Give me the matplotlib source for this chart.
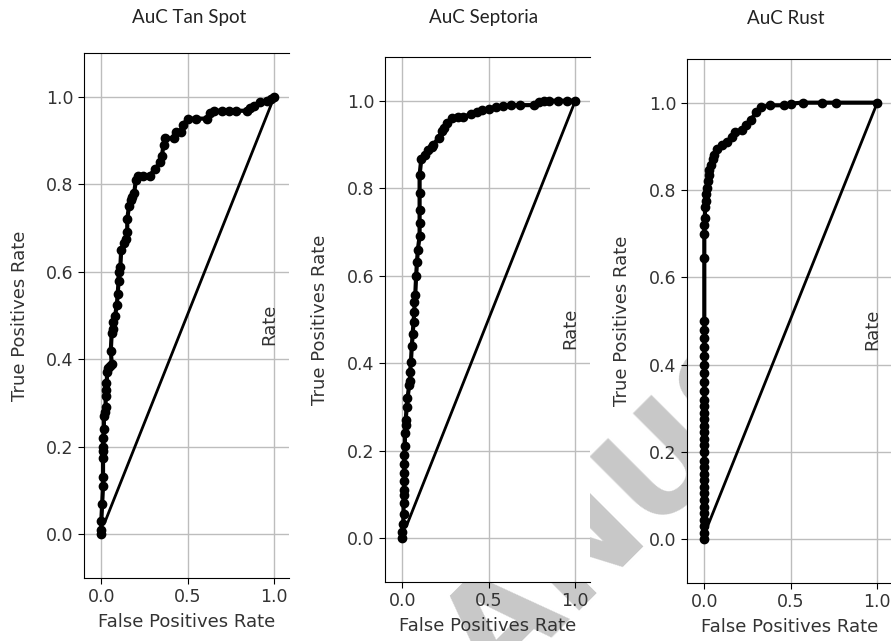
import matplotlib
matplotlib.use("Agg")
import matplotlib.pyplot as plt

plt.rcParams["font.family"] = ["DejaVu Sans"]

# ROC points (false positive rate, true positive rate)
tan_fpr = [0.0, 0.0, 0.0, 0.005, 0.01, 0.01, 0.01, 0.01, 0.01, 0.012, 0.015, 0.015, 0.02,
           0.025, 0.025, 0.03, 0.03, 0.035, 0.04, 0.05, 0.06, 0.055, 0.06, 0.065, 0.07,
           0.08, 0.09, 0.095, 0.1, 0.1, 0.11, 0.115, 0.13, 0.14, 0.15, 0.15, 0.16, 0.17,
           0.18, 0.19, 0.2, 0.21, 0.24, 0.28, 0.31, 0.34, 0.35, 0.36, 0.37, 0.42, 0.43,
           0.46, 0.47, 0.5, 0.55, 0.61, 0.63, 0.65, 0.7, 0.74, 0.78, 0.84, 0.86, 0.88,
           0.92, 0.96, 0.98, 1.0]
tan_tpr = [0.0, 0.01, 0.03, 0.07, 0.11, 0.13, 0.175, 0.19, 0.2, 0.22, 0.24, 0.27, 0.28,
           0.29, 0.315, 0.33, 0.345, 0.37, 0.38, 0.385, 0.39, 0.42, 0.46, 0.47, 0.485,
           0.5, 0.525, 0.55, 0.58, 0.6, 0.61, 0.65, 0.665, 0.675, 0.69, 0.72, 0.75, 0.765,
           0.77, 0.78, 0.81, 0.82, 0.82, 0.82, 0.835, 0.85, 0.865, 0.89, 0.905, 0.905,
           0.92, 0.92, 0.935, 0.95, 0.95, 0.95, 0.964, 0.968, 0.968, 0.968, 0.968, 0.968,
           0.975, 0.98, 0.987, 0.99, 0.995, 1.0]

sep_fpr = [0.0, 0.0, 0.005, 0.007, 0.007, 0.008, 0.01, 0.01, 0.01, 0.012, 0.01, 0.015,
           0.015, 0.02, 0.02, 0.025, 0.03, 0.04, 0.045, 0.045, 0.05, 0.055, 0.06, 0.065,
           0.07, 0.07, 0.075, 0.08, 0.085, 0.09, 0.1, 0.1, 0.1, 0.1, 0.1, 0.11, 0.13,
           0.15, 0.17, 0.18, 0.21, 0.23, 0.24, 0.26, 0.29, 0.32, 0.35, 0.4, 0.43, 0.46,
           0.5, 0.54, 0.58, 0.63, 0.68, 0.76, 0.79, 0.82, 0.85, 0.9, 0.95, 1.0]
sep_tpr = [0.0, 0.015, 0.032, 0.055, 0.08, 0.1, 0.11, 0.13, 0.15, 0.17, 0.19, 0.21, 0.24,
           0.26, 0.27, 0.3, 0.32, 0.35, 0.36, 0.38, 0.404, 0.44, 0.466, 0.495, 0.518,
           0.54, 0.557, 0.6, 0.632, 0.66, 0.69, 0.72, 0.75, 0.79, 0.83, 0.868, 0.875,
           0.887, 0.895, 0.9, 0.915, 0.93, 0.937, 0.95, 0.96, 0.962, 0.963, 0.97, 0.975,
           0.978, 0.982, 0.985, 0.988, 0.99, 0.99, 0.99, 0.998, 1.0, 1.0, 1.0, 1.0, 1.0]

rust_fpr = [0.0, 0.0, 0.0, 0.0, 0.0, 0.0, 0.0, 0.0, 0.0, 0.0, 0.0, 0.0, 0.0, 0.0, 0.0,
            0.0, 0.0, 0.0, 0.0, 0.0, 0.0, 0.0, 0.0, 0.0, 0.0, 0.0, 0.0, 0.0, 0.0, 0.0,
            0.0, 0.0, 0.0, 0.0, 0.003, 0.005, 0.008, 0.012, 0.016, 0.02, 0.025, 0.03,
            0.038, 0.048, 0.058, 0.073, 0.1, 0.13, 0.16, 0.18, 0.22, 0.24, 0.27, 0.3,
            0.33, 0.38, 0.46, 0.5, 0.57, 0.68, 0.76, 1.0]
rust_tpr = [0.0, 0.015, 0.03, 0.045, 0.06, 0.075, 0.09, 0.105, 0.12, 0.135, 0.15, 0.165,
            0.18, 0.2, 0.215, 0.23, 0.245, 0.26, 0.275, 0.29, 0.305, 0.32, 0.34, 0.36,
            0.38, 0.4, 0.42, 0.44, 0.46, 0.48, 0.5, 0.645, 0.7, 0.72, 0.736, 0.76, 0.775,
            0.79, 0.805, 0.82, 0.834, 0.845, 0.857, 0.87, 0.88, 0.895, 0.903, 0.91, 0.922,
            0.933, 0.937, 0.948, 0.96, 0.979, 0.99, 0.994, 0.994, 0.998, 1.0, 1.0, 1.0,
            1.0]

# straight reference segment drawn in each panel
diag_start = [(0.023, 0.03), (0.026, 0.03), (0.016, 0.027)]

titles = ["AuC Tan Spot", "AuC Septoria", "AuC Rust"]
curves = [(tan_fpr, tan_tpr), (sep_fpr, sep_tpr), (rust_fpr, rust_tpr)]

W, H = 891, 641
fig = plt.figure(figsize=(W / 100, H / 100), dpi=100)

# watermark behind the panels
fig.text(495 / W, 1 - 695 / H, "ANUSCRIPT", fontsize=100, fontweight="bold",
         color="#c8c8c8", rotation=45, rotation_mode="anchor",
         ha="left", va="baseline", zorder=-10)

# axes boxes in pixels: left, top, bottom
boxes = [(84, 53, 578), (385, 57, 582), (687, 59, 583)]
title_x = [189, 484, 786]
ylab_x = [20, 320, 622]

for i, (fpr, tpr) in enumerate(curves):
    left, top, bottom = boxes[i]
    width = 205
    ax = fig.add_axes([left / W, 1 - bottom / H, width / W, (bottom - top) / H])
    ax.set_facecolor("white")
    ax.set_xlim(-0.1, 1.085)
    ax.set_ylim(-0.1, 1.1)
    ax.spines["right"].set_visible(False)
    ax.grid(True, color="#bdbdbd", linewidth=1.0)
    ax.set_axisbelow(True)
    ax.plot(fpr, tpr, color="black", lw=3, marker="o", ms=6)
    x0, y0 = diag_start[i]
    ax.plot([x0, 1.0], [y0, 1.0], color="black", lw=2)
    ax.set_xticks([0.0, 0.5, 1.0])
    ax.set_yticks([0.0, 0.2, 0.4, 0.6, 0.8, 1.0])
    ax.tick_params(labelsize=12.5, labelcolor="#333333", length=4)
    ax.set_xlabel("False Positives Rate", fontsize=13, color="#333333", labelpad=5)
    ax.text(0.97, 0.48, "Rate", rotation=90, fontsize=13, color="#333333",
            ha="center", va="center")
    fig.text(title_x[i] / W, 1 - 18 / H, titles[i], fontsize=13.5, family="Lato",
             ha="center", va="center", color="#222222")
    fig.text(ylab_x[i] / W, 1 - ((top + bottom) / 2) / H, "True Positives Rate",
             rotation=90, fontsize=13, color="#333333", ha="center", va="center")

fig.savefig("out.png", dpi=100)
